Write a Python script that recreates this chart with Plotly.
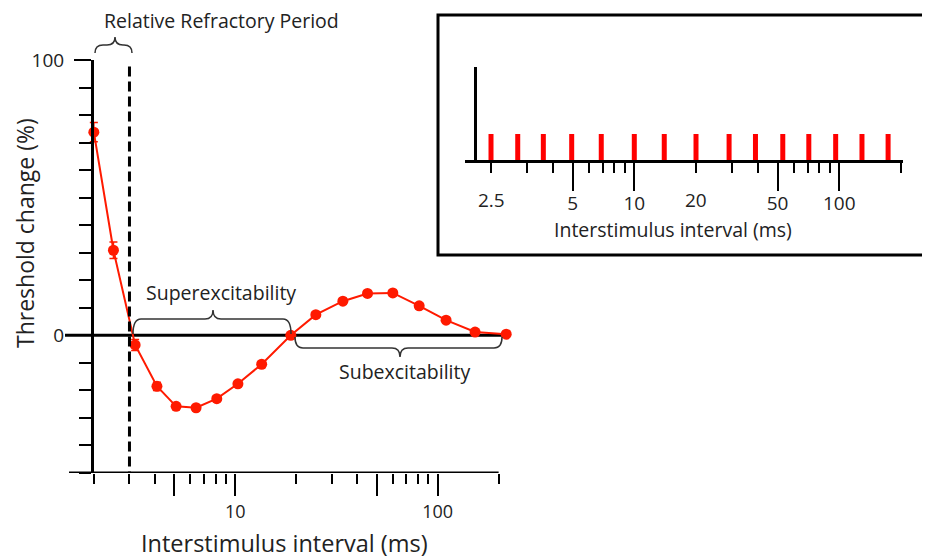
import math
import plotly.graph_objects as go

# ---------------- data ----------------
isi_ms = [2, 2.5, 3.2, 4.1, 5.1, 6.4, 8.1, 10.3, 13.5, 18.8, 25, 34, 45, 60, 81, 110, 153, 218]
threshold_change = [73.8, 30.9, -3.5, -18.5, -25.8, -26.3, -23.0, -17.6, -10.5, 0.0,
                    7.5, 12.4, 15.2, 15.4, 10.7, 5.5, 1.2, 0.4]
threshold_err = [3.5, 3.0, 2.0, 1.5, 1.0, 1.0, 1.0, 1.0, 1.0, 0.8,
                 1.0, 1.0, 1.0, 1.0, 1.0, 1.0, 0.5, 0.5]
refractory_boundary_ms = 3
refractory_line_top = 97.6

inset_stimulus_ms = [2, 2.7, 3.6, 4.95, 6.9, 10, 14, 20, 29, 39, 53, 71, 96, 129, 173]
inset_stimulus_height = [1] * len(inset_stimulus_ms)

main_x_major = [5, 10, 50, 100]
main_x_major_text = ["", "10", "", "100"]
main_x_minor = [2, 3, 4, 6, 7, 8, 9, 20, 30, 40, 60, 70, 80, 90, 200]
main_x_axis_span = [1.5, 200]
main_y_major = [0, 100]
main_y_major_text = ["0", "100"]
main_y_minor = list(range(-50, 101, 10))

inset_x_major = [5, 10, 50, 100]
inset_x_major_text = ["5", "10", "50", "100"]
inset_x_minor = [2, 3, 4, 6, 7, 8, 9, 20, 30, 40, 60, 70, 80, 90, 200]
inset_extra_tick_vals = [2, 20]
inset_extra_tick_text = ["2.5", "20"]

# ---------------- layout helpers (page pixel -> paper) ----------------
OFF = 8                      # page body margin
W, H = 930 - OFF, 559 - OFF  # figure size so it fits the window
FONT = "Open Sans"
TXT = "#222222"
RED = "#ff1a00"


def px(x):
    return (x - OFF) / W


def py(y):
    return 1 - (y - OFF) / H


def brace_path(x1, x2, y_end, y_bar, y_tip, xm=None):
    if xm is None:
        xm = (x1 + x2) / 2
    r = 8
    pts = [
        f"M {px(x1)},{py(y_end)}",
        f"Q {px(x1)},{py(y_bar)} {px(x1 + r)},{py(y_bar)}",
        f"L {px(xm - r)},{py(y_bar)}",
        f"Q {px(xm)},{py(y_bar)} {px(xm)},{py(y_tip)}",
        f"Q {px(xm)},{py(y_bar)} {px(xm + r)},{py(y_bar)}",
        f"L {px(x2 - r)},{py(y_bar)}",
        f"Q {px(x2)},{py(y_bar)} {px(x2)},{py(y_end)}",
    ]
    return " ".join(pts)


fig = go.Figure()

# main curve
fig.add_trace(go.Scatter(
    x=isi_ms, y=threshold_change, mode="lines+markers",
    line=dict(color=RED, width=2),
    marker=dict(color=RED, size=11),
    error_y=dict(type="data", array=threshold_err, color=RED, thickness=1.5, width=4),
    cliponaxis=False, xaxis="x", yaxis="y",
))

# refractory boundary (dashed)
fig.add_trace(go.Scatter(
    x=[refractory_boundary_ms, refractory_boundary_ms], y=[refractory_line_top, -50],
    mode="lines", line=dict(color="black", width=3, dash="10px,5px"),
    xaxis="x", yaxis="y", hoverinfo="skip",
))

# main x axis line (drawn along the axis so it ends at the 200 tick)
fig.add_trace(go.Scatter(
    x=main_x_axis_span, y=[-50, -50], mode="lines",
    line=dict(color="black", width=3), cliponaxis=False,
    xaxis="x", yaxis="y", hoverinfo="skip",
))

# inset stimulus bars
bx, by = [], []
for v, h in zip(inset_stimulus_ms, inset_stimulus_height):
    bx += [v, v, None]
    by += [0, h, None]
fig.add_trace(go.Scatter(
    x=bx, y=by, mode="lines", line=dict(color="#ff0000", width=5),
    xaxis="x2", yaxis="y2", hoverinfo="skip",
))

# axes ranges from pixel geometry
L10, DEC = 235.3, 202.4
x_left, x_right = 69, 514
main_xrange = [1 + (x_left - L10) / DEC, 1 + (x_right - L10) / DEC]

IL10, IDEC = 634.3, 205.0
ix_left, ix_right = 465, 903
inset_xrange = [1 + (ix_left - IL10) / IDEC, 1 + (ix_right - IL10) / IDEC]

fig.update_layout(
    width=W, height=H,
    margin=dict(l=0, r=0, t=0, b=0, pad=0, autoexpand=False),
    paper_bgcolor="white", plot_bgcolor="white",
    showlegend=False,
    font=dict(family=FONT, color=TXT, size=17),
    xaxis=dict(
        type="log", range=main_xrange, domain=[px(x_left), px(x_right)],
        anchor="y", showgrid=False, zeroline=False, automargin=False,
        showline=False,
        tickmode="array", tickvals=main_x_major, ticktext=main_x_major_text,
        ticks="outside", ticklen=22, tickwidth=2, tickcolor="black",
        ticklabelstandoff=0,
        tickfont=dict(size=18, family=FONT, color=TXT),
        minor=dict(tickmode="array", tickvals=main_x_minor, ticks="outside",
                   ticklen=10, tickwidth=2, tickcolor="black", showgrid=False),
    ),
    yaxis=dict(
        range=[-50, 100], domain=[py(473), py(60)],
        anchor="free", position=px(92), showgrid=False, zeroline=False, automargin=False,
        showline=True, linewidth=3, linecolor="black",
        tickmode="array", tickvals=main_y_major, ticktext=main_y_major_text,
        ticks="outside", ticklen=17, tickwidth=2, tickcolor="black",
        ticklabelstandoff=6,
        tickfont=dict(size=19, family=FONT, color=TXT),
        minor=dict(tickmode="array", tickvals=main_y_minor, ticks="outside",
                   ticklen=12, tickwidth=2, tickcolor="black", showgrid=False),
    ),
    xaxis2=dict(
        type="log", range=inset_xrange, domain=[px(ix_left), px(ix_right)],
        anchor="y2", showgrid=False, zeroline=False, automargin=False,
        showline=True, linewidth=3, linecolor="black",
        tickmode="array", tickvals=inset_x_major, ticktext=inset_x_major_text,
        ticks="outside", ticklen=28, tickwidth=2, tickcolor="black",
        ticklabelstandoff=-4,
        tickfont=dict(size=19, family=FONT, color=TXT),
        minor=dict(tickmode="array", tickvals=inset_x_minor, ticks="outside",
                   ticklen=10, tickwidth=2, tickcolor="black", showgrid=False),
    ),
    yaxis2=dict(
        range=[0, 3.6], domain=[py(160), py(66.7)],
        anchor="free", position=px(475), showgrid=False, zeroline=False, automargin=False,
        showline=True, linewidth=3, linecolor="black",
        showticklabels=False, ticks="",
    ),
)

shapes = []
# zero line
shapes.append(dict(type="line", xref="paper", yref="y", x0=px(65), x1=px(508), y0=0, y1=0,
                   line=dict(color="black", width=3), layer="below"))
# inset frame
shapes.append(dict(type="rect", xref="paper", yref="paper",
                   x0=px(438), x1=px(929), y0=py(255), y1=py(15),
                   line=dict(color="black", width=3)))
# braces
brace_line = dict(color="#333333", width=1.5)
shapes.append(dict(type="path", xref="paper", yref="paper",
                   path=brace_path(95, 132, 53, 45, 37, 115), line=brace_line))
shapes.append(dict(type="path", xref="paper", yref="paper",
                   path=brace_path(133, 291, 334, 319, 310, 213), line=brace_line))
shapes.append(dict(type="path", xref="paper", yref="paper",
                   path=brace_path(295, 502, 337, 348, 357, 400), line=brace_line))
fig.update_layout(shapes=shapes)

ann = []


def label(text, x, y, size=17, angle=0):
    ann.append(dict(text=text, xref="paper", yref="paper", x=px(x), y=py(y),
                    xanchor="center", yanchor="middle", showarrow=False,
                    textangle=angle, font=dict(size=size, family=FONT, color=TXT)))


label("Relative Refractory Period", 221, 20, 19.5)
label("Superexcitability", 221, 292, 19.5)
label("Subexcitability", 404, 371, 19.5)
label("Interstimulus interval (ms)", 284, 543, 23.5)
label("Threshold change (%)", 25, 233, 23, angle=-90)
label("Interstimulus interval (ms)", 673, 229, 19.5)

for v, t in zip(inset_extra_tick_vals, inset_extra_tick_text):
    ann.append(dict(text=t, xref="x2", yref="paper", x=math.log10(v), y=py(200),
                    xanchor="center", yanchor="middle", showarrow=False,
                    font=dict(size=19, family=FONT, color=TXT)))
fig.update_layout(annotations=ann)

fig.write_html("out.html")
